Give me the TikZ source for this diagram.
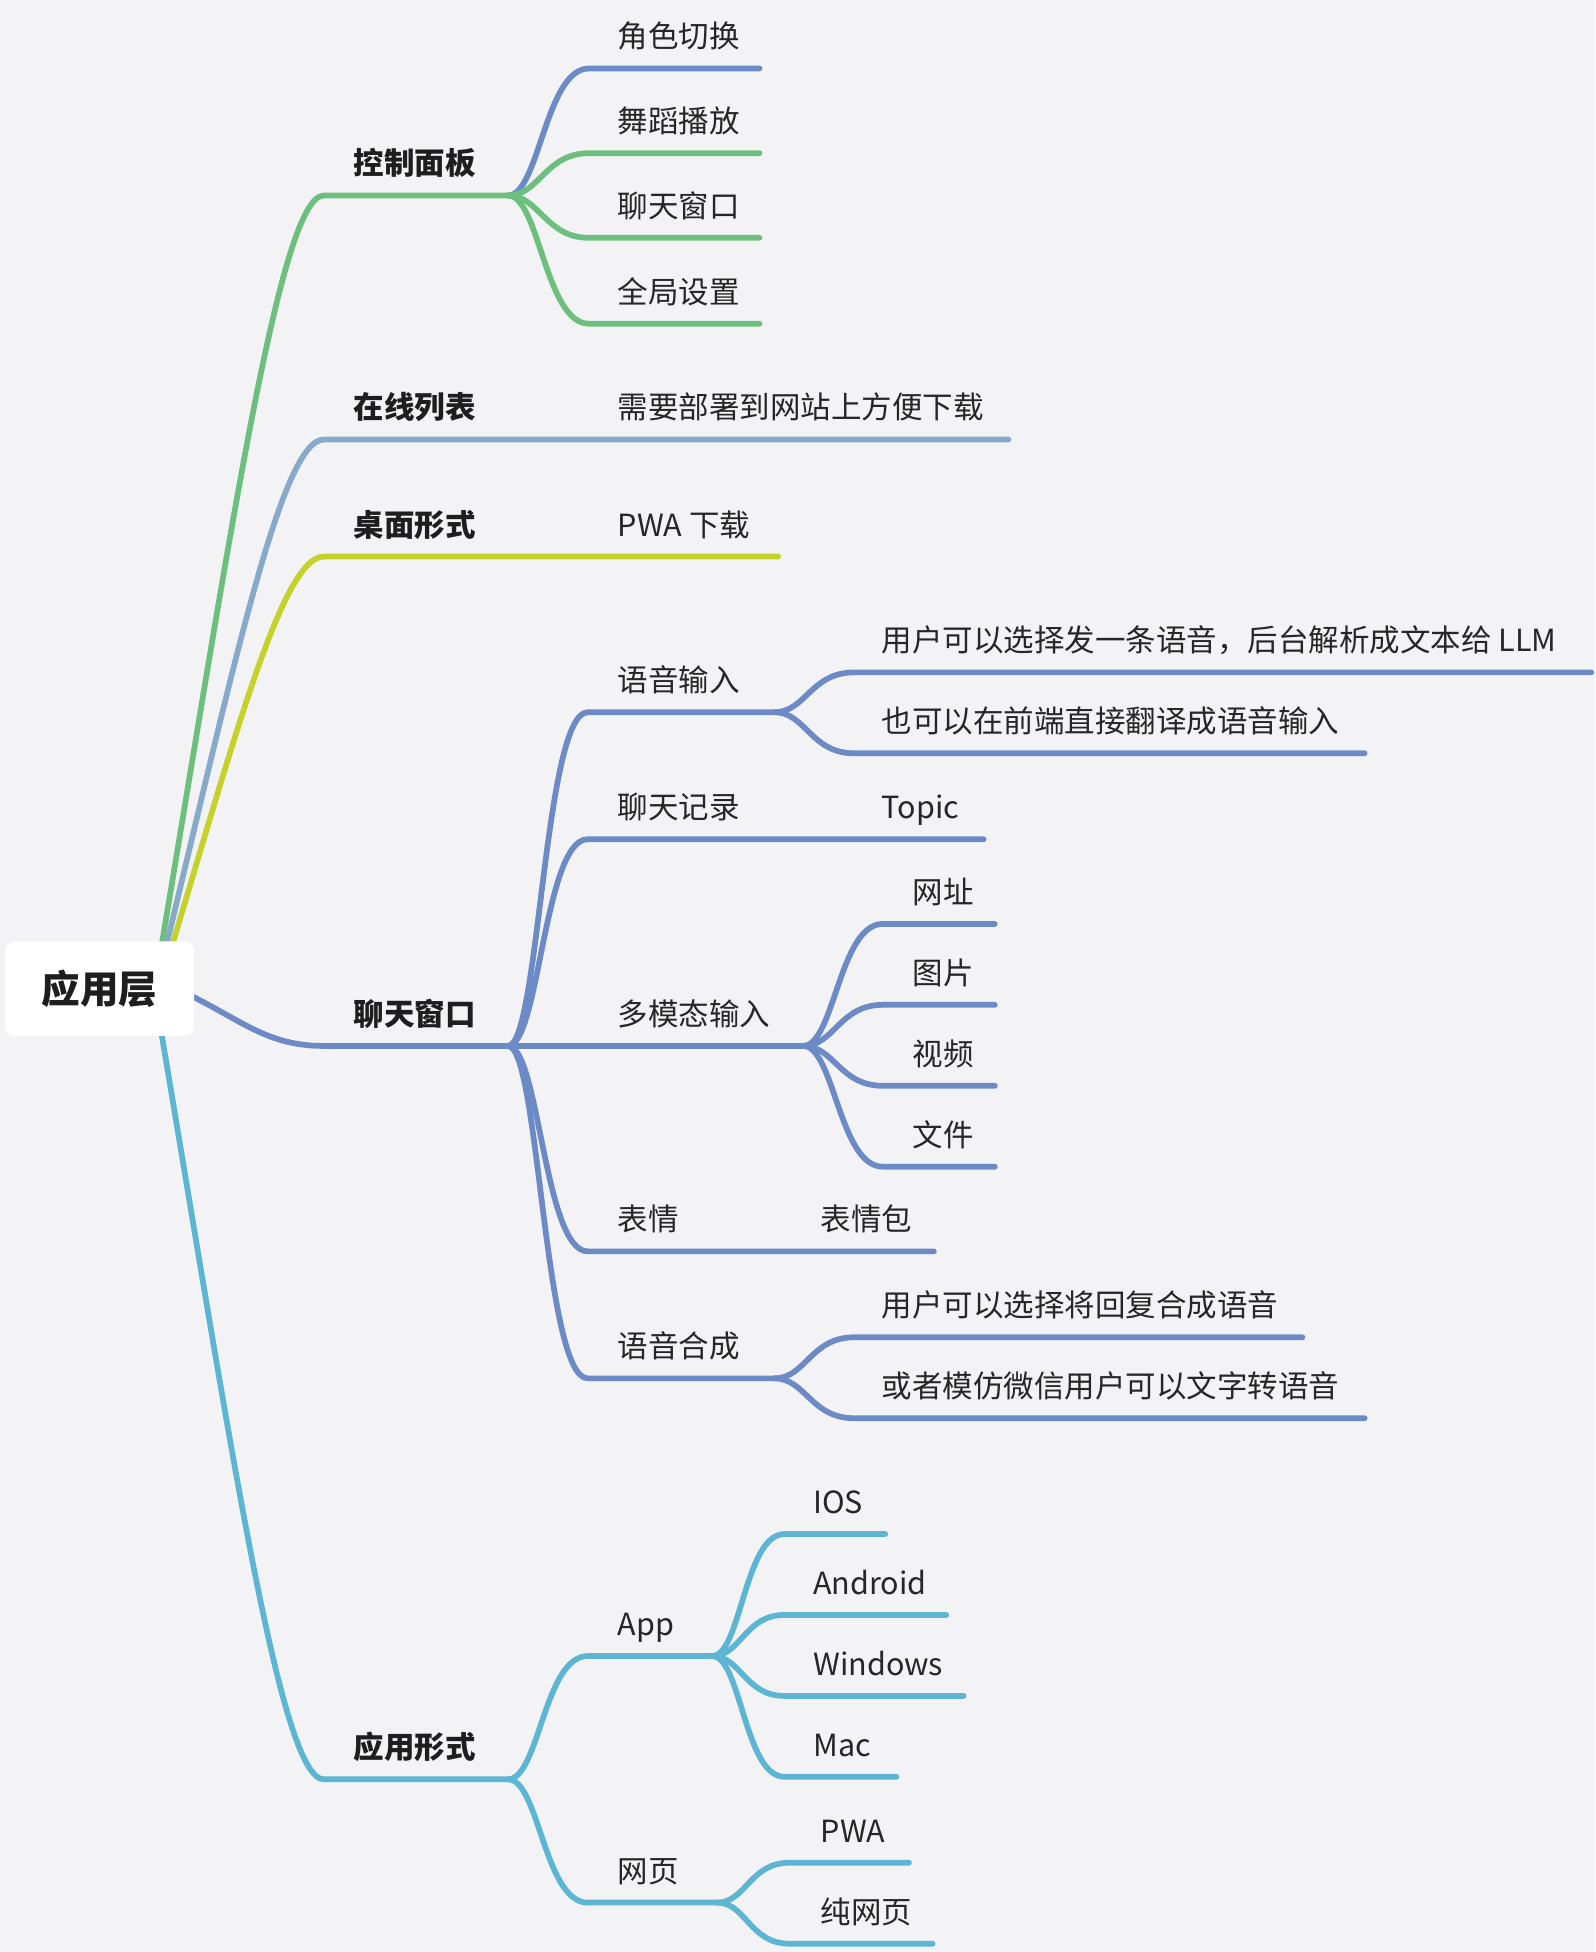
\documentclass[tikz,border=0pt]{standalone}
\usepackage{fontspec}
\setmainfont{Noto Sans CJK SC}
\usetikzlibrary{calc}
\definecolor{bg}{HTML}{F3F3F5}
\definecolor{txt}{HTML}{262626}
\definecolor{txtb}{HTML}{1E1E1E}
\definecolor{cgreen}{HTML}{6DBF7E}
\definecolor{cbg}{HTML}{87AACA}
\definecolor{cyel}{HTML}{C5D22B}
\definecolor{cblue}{HTML}{6B8AC6}
\definecolor{ccyan}{HTML}{5DB5D4}
\newcommand\fs{\fontsize{24.5}{29}\selectfont}
\begin{document}
\begin{tikzpicture}[x=1pt,y=-1pt,line cap=round,line join=round,
  edge/.style={line width=4.6pt},
  leaf/.style={anchor=base west,inner sep=0pt,font=\fs,text=txt},
  lone/.style={anchor=base west,inner sep=0pt,font=\fs\bfseries,text=txtb},
  rootbox/.style={fill=white,rounded corners=8pt,minimum width=152pt,minimum height=76pt,inner sep=0pt,font=\fontsize{31}{36}\selectfont\bfseries,text=txtb}]
\fill[bg] (0,0) rectangle (1281,1567.7);
\useasboundingbox (0,0) rectangle (1281,1567.7);

% root anchor coordinates (hidden behind the root box)
\coordinate (rg) at (128,770);
\coordinate (rb) at (131,770);
\coordinate (ry) at (135,770);
\coordinate (rd) at (150,798);
\coordinate (rc) at (128,820);

% level 1 lines
\coordinate (As) at (260,157);  \coordinate (Ae) at (408,157);
\coordinate (Bs) at (260,353);  \coordinate (Be) at (810,353);
\coordinate (Cs) at (260,447);  \coordinate (Ce) at (625,447);
\coordinate (Ds) at (260,840);  \coordinate (De) at (408,840);
\coordinate (Es) at (260,1429); \coordinate (Ee) at (408,1429);

\draw[edge,cgreen] (rg) .. controls ($(rg)+(57,-340)$) and ($(As)+(-35,0)$) .. (As) -- (Ae);
\draw[edge,cbg] (rb) .. controls ($(rb)+(56,-231)$) and ($(Bs)+(-34,0)$) .. (Bs) -- (Be);
\draw[edge,cyel] (ry) .. controls ($(ry)+(54,-179)$) and ($(Cs)+(-33,0)$) .. (Cs) -- (Ce);
\draw[edge,cblue] (rd) .. controls ($(rd)+(45,22)$) and ($(Ds)+(-45,0)$) .. (Ds) -- (De);
\draw[edge,ccyan] (rc) .. controls ($(rc)+(57,338)$) and ($(Es)+(-35,0)$) .. (Es) -- (Ee);

% control panel children
\coordinate (A1s) at (473,55);  \coordinate (A1e) at (610,55);
\coordinate (A2s) at (473,123); \coordinate (A2e) at (610,123);
\coordinate (A3s) at (473,191); \coordinate (A3e) at (610,191);
\coordinate (A4s) at (473,260); \coordinate (A4e) at (610,260);
\draw[edge,cblue] (Ae) .. controls ($(Ae)+(25,0)$) and ($(A1s)+(-35,0)$) .. (A1s) -- (A1e);
\draw[edge,cgreen] (Ae) .. controls ($(Ae)+(25,0)$) and ($(A2s)+(-35,0)$) .. (A2s) -- (A2e);
\draw[edge,cgreen] (Ae) .. controls ($(Ae)+(25,0)$) and ($(A3s)+(-35,0)$) .. (A3s) -- (A3e);
\draw[edge,cgreen] (Ae) .. controls ($(Ae)+(25,0)$) and ($(A4s)+(-35,0)$) .. (A4s) -- (A4e);

% chat window children
\coordinate (D1s) at (472,572);  \coordinate (D1e) at (622,572);
\coordinate (D2s) at (472,674);  \coordinate (D2e) at (790,674);
\coordinate (D3e) at (645,840);
\coordinate (D4s) at (472,1005); \coordinate (D4e) at (750,1005);
\coordinate (D5s) at (472,1107); \coordinate (D5e) at (622,1107);
\foreach \c in {D1,D2,D4,D5}{
  \draw[edge,cblue] (De) .. controls ($(De)+(25,0)$) and ($(\c s)+(-35,0)$) .. (\c s) -- (\c e);
}
\draw[edge,cblue] (De) -- (D3e);

% voice input children
\coordinate (D1as) at (686,540); \coordinate (D1ae) at (1278,540);
\coordinate (D1bs) at (686,605); \coordinate (D1be) at (1096,605);
\draw[edge,cblue] (D1e) .. controls ($(D1e)+(25,0)$) and ($(D1as)+(-35,0)$) .. (D1as) -- (D1ae);
\draw[edge,cblue] (D1e) .. controls ($(D1e)+(25,0)$) and ($(D1bs)+(-35,0)$) .. (D1bs) -- (D1be);

% multimodal children
\coordinate (D3as) at (709,742); \coordinate (D3ae) at (799,742);
\coordinate (D3bs) at (709,807); \coordinate (D3be) at (799,807);
\coordinate (D3cs) at (709,872); \coordinate (D3ce) at (799,872);
\coordinate (D3ds) at (709,937); \coordinate (D3de) at (799,937);
\foreach \c in {D3a,D3b,D3c,D3d}{
  \draw[edge,cblue] (D3e) .. controls ($(D3e)+(25,0)$) and ($(\c s)+(-35,0)$) .. (\c s) -- (\c e);
}

% speech synthesis children
\coordinate (D5as) at (686,1074); \coordinate (D5ae) at (1046,1074);
\coordinate (D5bs) at (686,1139); \coordinate (D5be) at (1096,1139);
\draw[edge,cblue] (D5e) .. controls ($(D5e)+(25,0)$) and ($(D5as)+(-35,0)$) .. (D5as) -- (D5ae);
\draw[edge,cblue] (D5e) .. controls ($(D5e)+(25,0)$) and ($(D5bs)+(-35,0)$) .. (D5bs) -- (D5be);

% application form children
\coordinate (E1s) at (472,1330); \coordinate (E1e) at (572,1330);
\coordinate (E2s) at (472,1528); \coordinate (E2e) at (576,1528);
\foreach \c in {E1,E2}{
  \draw[edge,ccyan] (Ee) .. controls ($(Ee)+(25,0)$) and ($(\c s)+(-35,0)$) .. (\c s) -- (\c e);
}
\coordinate (E1as) at (630,1232); \coordinate (E1ae) at (711,1232);
\coordinate (E1bs) at (630,1297); \coordinate (E1be) at (760,1297);
\coordinate (E1cs) at (630,1362); \coordinate (E1ce) at (774,1362);
\coordinate (E1ds) at (630,1427); \coordinate (E1de) at (720,1427);
\foreach \c in {E1a,E1b,E1c,E1d}{
  \draw[edge,ccyan] (E1e) .. controls ($(E1e)+(23,0)$) and ($(\c s)+(-32,0)$) .. (\c s) -- (\c e);
}
\coordinate (E2as) at (634,1496); \coordinate (E2ae) at (730,1496);
\coordinate (E2bs) at (634,1561); \coordinate (E2be) at (749,1561);
\foreach \c in {E2a,E2b}{
  \draw[edge,ccyan] (E2e) .. controls ($(E2e)+(23,0)$) and ($(\c s)+(-32,0)$) .. (\c s) -- (\c e);
}

% texts
\node[lone] (A) at (284,140.5) {控制面板};
\node[lone] (B) at (284,336.5) {在线列表};
\node[lone] (C) at (284,430.5) {桌面形式};
\node[lone] (D) at (284,823.5) {聊天窗口};
\node[lone] (E) at (284,1412.5) {应用形式};

\node[leaf] (A1) at (496,38.5) {角色切换};
\node[leaf] (A2) at (496,106.5) {舞蹈播放};
\node[leaf] (A3) at (496,174.5) {聊天窗口};
\node[leaf] (A4) at (496,243.5) {全局设置};

\node[leaf] (B1) at (496,336.5) {需要部署到网站上方便下载};
\node[leaf] (C1) at (496,430.5) {PWA 下载};

\node[leaf] (D1) at (496,555.5) {语音输入};
\node[leaf] (D1a) at (708,523.5) {用户可以选择发一条语音，后台解析成文本给 LLM};
\node[leaf] (D1b) at (708,588.5) {也可以在前端直接翻译成语音输入};
\node[leaf] (D2) at (496,657.5) {聊天记录};
\node[leaf] (D2a) at (708,657.5) {Topic};
\node[leaf] (D3) at (496,823.5) {多模态输入};
\node[leaf] (D3a) at (733,725.5) {网址};
\node[leaf] (D3b) at (733,790.5) {图片};
\node[leaf] (D3c) at (733,855.5) {视频};
\node[leaf] (D3d) at (733,920.5) {文件};
\node[leaf] (D4) at (496,988.5) {表情};
\node[leaf] (D4a) at (659,988.5) {表情包};
\node[leaf] (D5) at (496,1090.5) {语音合成};
\node[leaf] (D5a) at (708,1057.5) {用户可以选择将回复合成语音};
\node[leaf] (D5b) at (708,1122.5) {或者模仿微信用户可以文字转语音};

\node[leaf] (E1) at (496,1313.5) {App};
\node[leaf] (E1a) at (653,1215.5) {IOS};
\node[leaf] (E1b) at (653,1280.5) {Android};
\node[leaf] (E1c) at (653,1345.5) {Windows};
\node[leaf] (E1d) at (653,1410.5) {Mac};
\node[leaf] (E2) at (496,1511.5) {网页};
\node[leaf] (E2a) at (659,1479.5) {PWA};
\node[leaf] (E2b) at (659,1544.5) {纯网页};

\node[rootbox] (root) at (80,794) {应用层};
\end{tikzpicture}
\end{document}
